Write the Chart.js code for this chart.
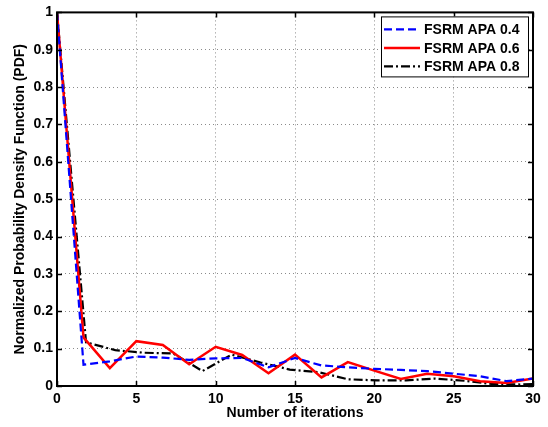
<!DOCTYPE html>
<html>
<head>
<meta charset="utf-8">
<script src="https://cdn.jsdelivr.net/npm/chart.js@4"></script>
<style>
  html, body { margin: 0; padding: 0; background: #fff; }
</style>
</head>
<body>
<canvas id="pdfChart" width="548" height="427"></canvas>
<script>
// Iteration positions (the 0.8 curve sits on a slightly wider grid)
const iterA = [0, 1.67, 3.33, 5, 6.67, 8.33, 10, 11.67, 13.33, 15, 16.67, 18.33, 20, 21.67, 23.33, 25, 26.67, 28.33, 30];
const iterB = [0, 1.83, 3.67, 5.5, 7.33, 9.17, 11, 12.83, 14.67, 16.5, 18.33, 20.17, 22, 23.83, 25.67, 27.5, 29.33, 30];

// Normalized PDF values
const apa04 = [1.0, 0.057, 0.066, 0.079, 0.076, 0.070, 0.074, 0.075, 0.050, 0.075, 0.055, 0.050, 0.046, 0.043, 0.040, 0.033, 0.026, 0.013, 0.020];
const apa06 = [1.0, 0.130, 0.048, 0.120, 0.110, 0.058, 0.105, 0.083, 0.034, 0.084, 0.023, 0.064, 0.041, 0.019, 0.033, 0.026, 0.013, 0.008, 0.020];
const apa08 = [1.0, 0.117, 0.096, 0.089, 0.087, 0.040, 0.084, 0.063, 0.044, 0.037, 0.018, 0.015, 0.015, 0.020, 0.014, 0.005, 0.004, 0.005];

const seriesNames = ['FSRM APA 0.4', 'FSRM APA 0.6', 'FSRM APA 0.8'];
const xTicks = [0, 5, 10, 15, 20, 25, 30];
const yTicks = [0, 0.1, 0.2, 0.3, 0.4, 0.5, 0.6, 0.7, 0.8, 0.9, 1];

const FONT = 'Liberation Sans, Arial, sans-serif';

function pts(xs, ys) {
  return ys.map((y, i) => ({ x: xs[i], y: y }));
}

// MATLAB-like box with inward tick marks
const axesBox = {
  id: 'axesBox',
  afterDatasetsDraw(chart) {
    const { ctx, chartArea: a, scales } = chart;
    ctx.save();
    ctx.strokeStyle = '#000';
    ctx.lineWidth = 1.5;
    ctx.beginPath();
    xTicks.forEach(v => {
      const px = Math.round(scales.x.getPixelForValue(v)) + 0.5;
      ctx.moveTo(px, a.bottom); ctx.lineTo(px, a.bottom - 5);
      ctx.moveTo(px, a.top); ctx.lineTo(px, a.top + 5);
    });
    yTicks.forEach(v => {
      const py = Math.round(scales.y.getPixelForValue(v)) + 0.5;
      ctx.moveTo(a.left, py); ctx.lineTo(a.left + 5, py);
      ctx.moveTo(a.right, py); ctx.lineTo(a.right - 5, py);
    });
    ctx.stroke();
    ctx.lineWidth = 2;
    ctx.strokeRect(a.left, a.top, a.right - a.left, a.bottom - a.top);
    ctx.restore();
  }
};

// legend box inside the axes, top right
const insideLegend = {
  id: 'insideLegend',
  afterDraw(chart) {
    const { ctx, chartArea: a } = chart;
    const right = a.right - 5, top = a.top + 4;
    const w = 147, h = 60;
    const left = right - w;
    ctx.save();
    ctx.fillStyle = '#fff';
    ctx.fillRect(left, top, w, h);
    ctx.strokeStyle = '#000';
    ctx.lineWidth = 1;
    ctx.strokeRect(left + 0.5, top + 0.5, w, h);
    ctx.font = 'bold 14px ' + FONT;
    ctx.textBaseline = 'middle';
    chart.data.datasets.forEach((ds, i) => {
      const y = top + 13 + i * 18.5;
      ctx.strokeStyle = ds.borderColor;
      ctx.lineWidth = ds.borderWidth;
      ctx.setLineDash(ds.borderDash || []);
      ctx.beginPath();
      ctx.moveTo(left + 3, y);
      ctx.lineTo(left + 39, y);
      ctx.stroke();
      ctx.setLineDash([]);
      ctx.fillStyle = '#000';
      ctx.fillText(ds.label, left + 43, y + 1);
    });
    ctx.restore();
  }
};

new Chart(document.getElementById('pdfChart'), {
  type: 'line',
  data: {
    datasets: [
      { label: seriesNames[0], data: pts(iterA, apa04), borderColor: '#0000ff', borderWidth: 2.2, borderDash: [8, 4] },
      { label: seriesNames[1], data: pts(iterA, apa06), borderColor: '#ff0000', borderWidth: 2.5 },
      { label: seriesNames[2], data: pts(iterB, apa08), borderColor: '#000000', borderWidth: 2.2, borderDash: [9, 3, 2, 3] }
    ]
  },
  options: {
    responsive: false,
    animation: false,
    elements: { point: { radius: 0 }, line: { tension: 0, fill: false } },
    layout: { padding: { top: 11, right: 15, left: 0, bottom: 0 } },
    plugins: { legend: { display: false }, tooltip: { enabled: false } },
    scales: {
      x: {
        type: 'linear',
        min: 0,
        max: 30,
        afterBuildTicks: s => { s.ticks = xTicks.map(v => ({ value: v })); },
        afterFit: s => { s.height = 41; },
        ticks: { color: '#000', font: { family: FONT, size: 14, weight: 'bold' }, padding: 5, maxRotation: 0 },
        grid: { color: '#8a8a8a', lineWidth: 1, drawTicks: false },
        border: { display: false, dash: [1, 3] },
        title: { display: true, text: 'Number of iterations', color: '#000', font: { family: FONT, size: 14, weight: 'bold' }, padding: { top: 0, bottom: 5 } }
      },
      y: {
        min: 0,
        max: 1,
        afterBuildTicks: s => { s.ticks = yTicks.map(v => ({ value: v })); },
        afterFit: s => { s.width = 57; },
        ticks: { color: '#000', font: { family: FONT, size: 14, weight: 'bold' }, padding: 4, callback: v => String(v) },
        grid: { color: '#8a8a8a', lineWidth: 1, drawTicks: false },
        border: { display: false, dash: [1, 3] },
        title: { display: true, text: 'Normalized Probability Density Function (PDF)', color: '#000', font: { family: FONT, size: 14, weight: 'bold' }, padding: { top: 12, bottom: 0 } }
      }
    }
  },
  plugins: [axesBox, insideLegend]
});
</script>
</body>
</html>
